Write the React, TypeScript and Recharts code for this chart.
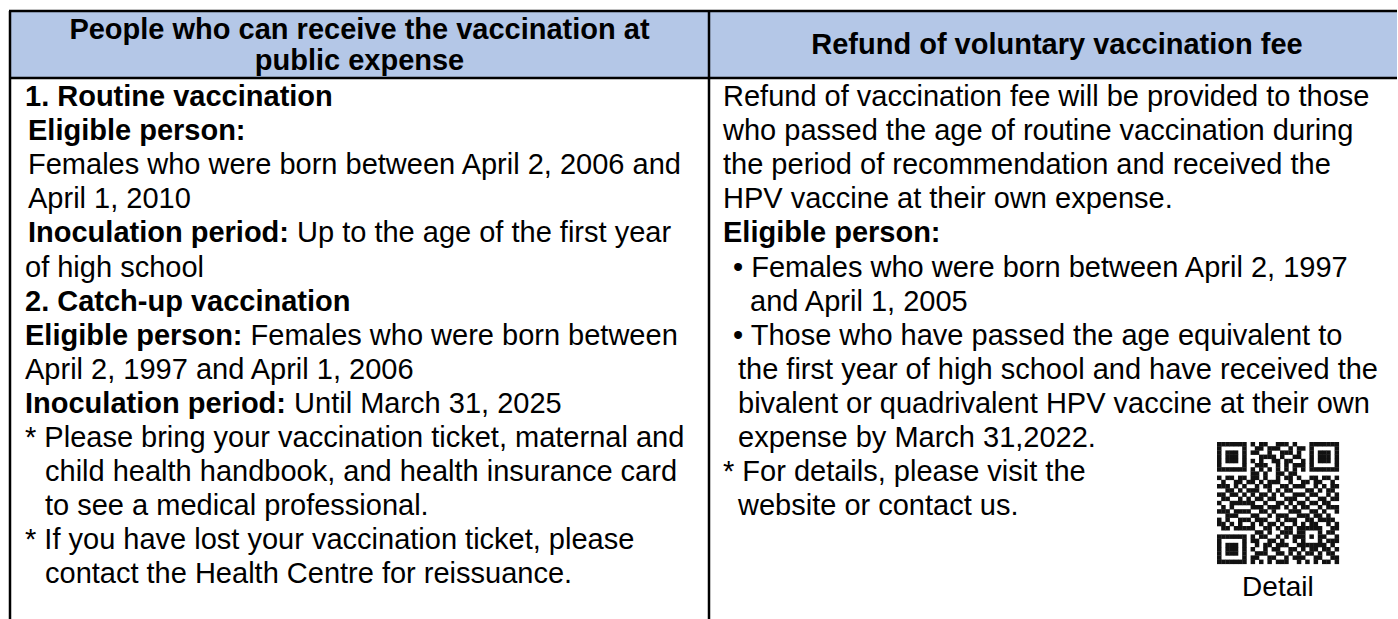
import React from 'react';
import { ScatterChart, Scatter, XAxis, YAxis, ReferenceArea, ReferenceLine } from 'recharts';

const W = 1398;
const H = 619;

// header titles for both columns
const leftHeader = ['People who can receive the vaccination at', 'public expense'];
const rightHeader = ['Refund of voluntary vaccination fee'];

// body text: b = bold part, t = regular part, k = line kind (indent style)
const leftLines = [
    { b: '1. Routine vaccination', t: '', k: 'top' },
    { b: 'Eligible person:', t: '', k: 'sub' },
    { b: '', t: 'Females who were born between April 2, 2006 and', k: 'sub' },
    { b: '', t: 'April 1, 2010', k: 'sub' },
    { b: 'Inoculation period:', t: ' Up to the age of the first year', k: 'sub' },
    { b: '', t: 'of high school', k: 'top' },
    { b: '2. Catch-up vaccination', t: '', k: 'top' },
    { b: 'Eligible person:', t: ' Females who were born between', k: 'top' },
    { b: '', t: 'April 2, 1997 and April 1, 2006', k: 'top' },
    { b: 'Inoculation period:', t: ' Until March 31, 2025', k: 'top' },
    { b: '', t: '* Please bring your vaccination ticket, maternal and', k: 'top' },
    { b: '', t: 'child health handbook, and health insurance card', k: 'note' },
    { b: '', t: 'to see a medical professional.', k: 'note' },
    { b: '', t: '* If you have lost your vaccination ticket, please', k: 'top' },
    { b: '', t: 'contact the Health Centre for reissuance.', k: 'note' },
];

const rightLines = [
    { b: '', t: 'Refund of vaccination fee will be provided to those', k: 'top' },
    { b: '', t: 'who passed the age of routine vaccination during', k: 'top' },
    { b: '', t: 'the period of recommendation and received the', k: 'top' },
    { b: '', t: 'HPV vaccine at their own expense.', k: 'top' },
    { b: 'Eligible person:', t: '', k: 'top' },
    { b: '', t: '\u2022 Females who were born between April 2, 1997', k: 'bullet' },
    { b: '', t: 'and April 1, 2005', k: 'bcont' },
    { b: '', t: '\u2022 Those who have passed the age equivalent to', k: 'bullet' },
    { b: '', t: 'the first year of high school and have received the', k: 'note' },
    { b: '', t: 'bivalent or quadrivalent HPV vaccine at their own', k: 'note' },
    { b: '', t: 'expense by March 31,2022.', k: 'note' },
    { b: '', t: '* For details, please visit the', k: 'top' },
    { b: '', t: 'website or contact us.', k: 'note' },
];

const qrCaption = 'Detail';

// QR code modules, 29 x 29
const qrRows = [
    '11111110101100111010001111111',
    '10000010011011100101101000001',
    '10111010110010011101001011101',
    '10111010001111010011001011101',
    '10111010101001101100101011101',
    '10000010011100101011101000001',
    '11111110101010101010101111111',
    '00000000110100110110000000000',
    '10110110110100101101001101101',
    '01001101101011100100110110010',
    '11101010010110011011100101011',
    '00110101110010101100011010110',
    '11011010101101010011101100101',
    '01100101011011001110010011011',
    '10011111100100110101101101100',
    '01010000111011101010110010111',
    '11101111001101000111001101001',
    '00111000110010111001110110100',
    '10100111011100101110011011110',
    '11010100101011010010101100101',
    '01101111100110101101111110011',
    '00000000011010011101100010110',
    '11111110101100101011101011001',
    '10000010110011010010100010111',
    '10111010010110111001111111010',
    '10111010100101100110101101101',
    '10111010011100110101011010110',
    '10000010110011001011100110011',
    '11111110101010111001010101101',
];

const FONT = '"Liberation Sans", Arial, sans-serif';
const FS = 29;
const LINE_H = 34.1;
const FIRST_BASE = 106;
const TOP = 11;
const HEAD_BOTTOM = 78;
const LEFT_X = 10;
const MID_X = 709;
const RIGHT_X = 1397;

const leftIndent: Record<string, number> = { top: 15, sub: 18, note: 35 };
const rightIndent: Record<string, number> = { top: 14, bullet: 24, bcont: 41, note: 29 };

type TextPoint = { x: number; y: number; b: string; t: string; anchor: string; size: number; bold: boolean };

const toPoints = (lines: typeof leftLines, base: number, indent: Record<string, number>): TextPoint[] =>
    lines.map((l, i) => ({
        x: base + (indent[l.k] ?? 0),
        y: FIRST_BASE + i * LINE_H,
        b: l.b,
        t: l.t,
        anchor: 'start',
        size: FS,
        bold: false,
    }));

const headerPoints: TextPoint[] = [
    ...leftHeader.map((s, i) => ({
        x: (LEFT_X + MID_X) / 2,
        y: 39 + i * 31,
        b: s,
        t: '',
        anchor: 'middle',
        size: FS,
        bold: true,
    })),
    ...rightHeader.map((s) => ({
        x: (MID_X + RIGHT_X) / 2 + 4,
        y: 54,
        b: s,
        t: '',
        anchor: 'middle',
        size: FS,
        bold: true,
    })),
];

const QR_X = 1217;
const QR_Y = 442;
const CELL = 4.2;

const qrPoints = qrRows.flatMap((row, r) =>
    row
        .padEnd(29, '0')
        .slice(0, 29)
        .split('')
        .map((c, col) => ({ on: c === '1', x: QR_X + col * CELL, y: QR_Y + r * CELL }))
        .filter((p) => p.on)
);

const captionPoints: TextPoint[] = [
    { x: QR_X + (29 * CELL) / 2, y: 596, b: '', t: qrCaption, anchor: 'middle', size: 28, bold: false },
];

const TextMark = (props: any) => {
    const { cx, cy, payload } = props;
    if (cx == null || cy == null) return null;
    return (
        <text
            x={cx}
            y={cy}
            textAnchor={payload.anchor}
            fontFamily={FONT}
            fontSize={payload.size}
            fill="#000"
            style={{ whiteSpace: 'pre' }}
        >
            {payload.b && <tspan fontWeight={700}>{payload.b}</tspan>}
            {payload.t && <tspan>{payload.t}</tspan>}
        </text>
    );
};

const QrCell = (props: any) => {
    const { cx, cy } = props;
    if (cx == null || cy == null) return null;
    return <rect x={cx} y={cy} width={CELL + 0.3} height={CELL + 0.3} fill="#111" />;
};

export default function App() {
    return (
        <div style={{ width: W, height: H, background: '#fff' }}>
            <style>{'body{margin:0}'}</style>
            <ScatterChart width={W} height={H} margin={{ top: 0, right: 0, bottom: 0, left: 0 }}>
                <XAxis type="number" dataKey="x" domain={[0, W]} hide allowDataOverflow />
                <YAxis type="number" dataKey="y" domain={[0, H]} reversed hide allowDataOverflow />
                <ReferenceArea x1={LEFT_X} x2={RIGHT_X} y1={TOP} y2={HEAD_BOTTOM} fill="#b4c7e7" fillOpacity={1} stroke="none" />
                <ReferenceLine segment={[{ x: LEFT_X - 1, y: TOP }, { x: RIGHT_X, y: TOP }]} stroke="#000" strokeWidth={2.5} />
                <ReferenceLine segment={[{ x: LEFT_X - 1, y: HEAD_BOTTOM }, { x: RIGHT_X, y: HEAD_BOTTOM }]} stroke="#000" strokeWidth={2.5} />
                <ReferenceLine segment={[{ x: LEFT_X, y: TOP }, { x: LEFT_X, y: H }]} stroke="#000" strokeWidth={2.5} />
                <ReferenceLine segment={[{ x: MID_X, y: TOP }, { x: MID_X, y: H }]} stroke="#000" strokeWidth={2.5} />
                <Scatter data={headerPoints} shape={<TextMark />} isAnimationActive={false} />
                <Scatter data={toPoints(leftLines, LEFT_X, leftIndent)} shape={<TextMark />} isAnimationActive={false} />
                <Scatter data={toPoints(rightLines, MID_X, rightIndent)} shape={<TextMark />} isAnimationActive={false} />
                <Scatter data={qrPoints} shape={<QrCell />} isAnimationActive={false} />
                <Scatter data={captionPoints} shape={<TextMark />} isAnimationActive={false} />
            </ScatterChart>
        </div>
    );
}
